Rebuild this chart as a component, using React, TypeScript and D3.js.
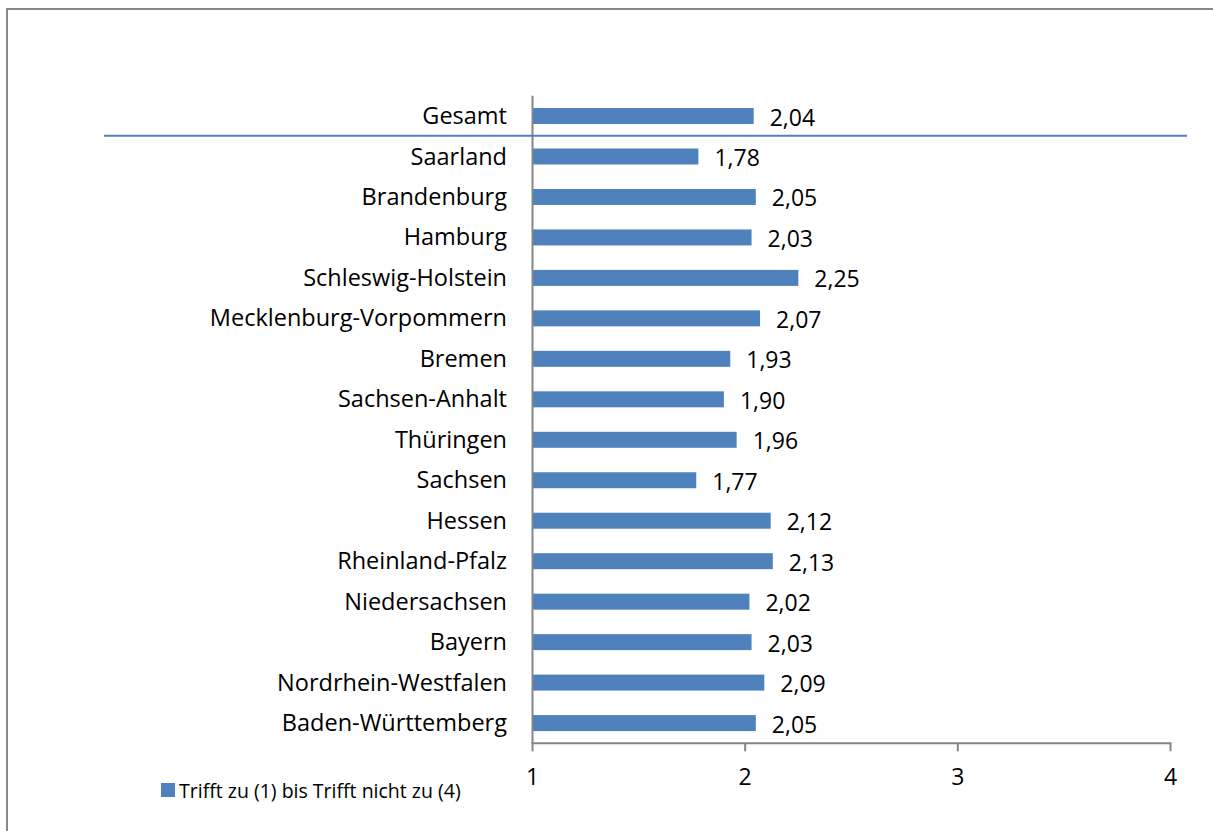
import React from "react";
import * as d3 from "d3";

// Regions (top to bottom) and their mean scores
const regions = [
  "Gesamt",
  "Saarland",
  "Brandenburg",
  "Hamburg",
  "Schleswig-Holstein",
  "Mecklenburg-Vorpommern",
  "Bremen",
  "Sachsen-Anhalt",
  "Thüringen",
  "Sachsen",
  "Hessen",
  "Rheinland-Pfalz",
  "Niedersachsen",
  "Bayern",
  "Nordrhein-Westfalen",
  "Baden-Württemberg",
];
const scores = [
  2.04, 1.78, 2.05, 2.03, 2.25, 2.07, 1.93, 1.9, 1.96, 1.77, 2.12, 2.13, 2.02,
  2.03, 2.09, 2.05,
];
const xTicks = [1, 2, 3, 4];
const legendLabel = "Trifft zu (1) bis Trifft nicht zu (4)";

const W = 1213;
const H = 831;
const FONT = "'Open Sans', sans-serif";
const BAR = "#4f81bd";
const AXIS = "#868686";

const fmt = (v: number) => v.toFixed(2).replace(".", ",");

export default function App() {
  const x = d3.scaleLinear().domain([1, 4]).range([532.5, 1170.5]);
  const y = d3
    .scaleBand<string>()
    .domain(regions)
    .range([95.8, 743.3])
    .paddingInner(0.605)
    .paddingOuter(0.3025);
  const axisY = 743.3;
  const sepY = (y(regions[0])! + y(regions[1])! + y.bandwidth()) / 2 - 0.5;

  return (
    <svg
      width={W}
      height={H}
      style={{ position: "absolute", left: 0, top: 0, background: "#fff" }}
      fontFamily={FONT}
    >
      {/* chart frame */}
      <rect x={7} y={9} width={W + 20} height={H + 20} fill="none" stroke="#888" strokeWidth={2} />

      {/* bars */}
      {regions.map((r, i) => (
        <rect
          key={r}
          x={x(1)}
          y={y(r)!}
          width={x(scores[i]) - x(1)}
          height={y.bandwidth()}
          fill={BAR}
        />
      ))}

      {/* value labels */}
      {regions.map((r, i) => (
        <text
          key={r}
          x={x(scores[i]) + 16}
          y={y(r)! + y.bandwidth() / 2 + 0.5}
          dominantBaseline="central"
          fontSize={23}
          fill="#000"
        >
          {fmt(scores[i])}
        </text>
      ))}

      {/* category labels */}
      {regions.map((r) => (
        <text
          key={r}
          x={507}
          y={y(r)! + y.bandwidth() / 2 - 1}
          textAnchor="end"
          dominantBaseline="central"
          fontSize={23.5}
          fill="#000"
        >
          {r}
        </text>
      ))}

      {/* vertical axis */}
      <line x1={x(1)} x2={x(1)} y1={95.8} y2={axisY} stroke={AXIS} strokeWidth={2} />

      {/* horizontal axis with ticks */}
      <line x1={x(1) - 1} x2={x(4) + 1} y1={axisY} y2={axisY} stroke={AXIS} strokeWidth={2} />
      {xTicks.map((t) => (
        <g key={t}>
          <line x1={x(t)} x2={x(t)} y1={axisY} y2={axisY + 8} stroke={AXIS} strokeWidth={2} />
          <text
            x={x(t)}
            y={axisY + 33}
            textAnchor="middle"
            dominantBaseline="central"
            fontSize={23}
            fill="#000"
          >
            {t}
          </text>
        </g>
      ))}

      {/* separator under the overall value */}
      <line x1={104} x2={1187} y1={sepY} y2={sepY} stroke={BAR} strokeWidth={2} />

      {/* legend */}
      <rect x={161} y={783} width={14} height={14} fill={BAR} />
      <text x={179} y={790} dominantBaseline="central" fontSize={19.5} fill="#000">
        {legendLabel}
      </text>
    </svg>
  );
}
